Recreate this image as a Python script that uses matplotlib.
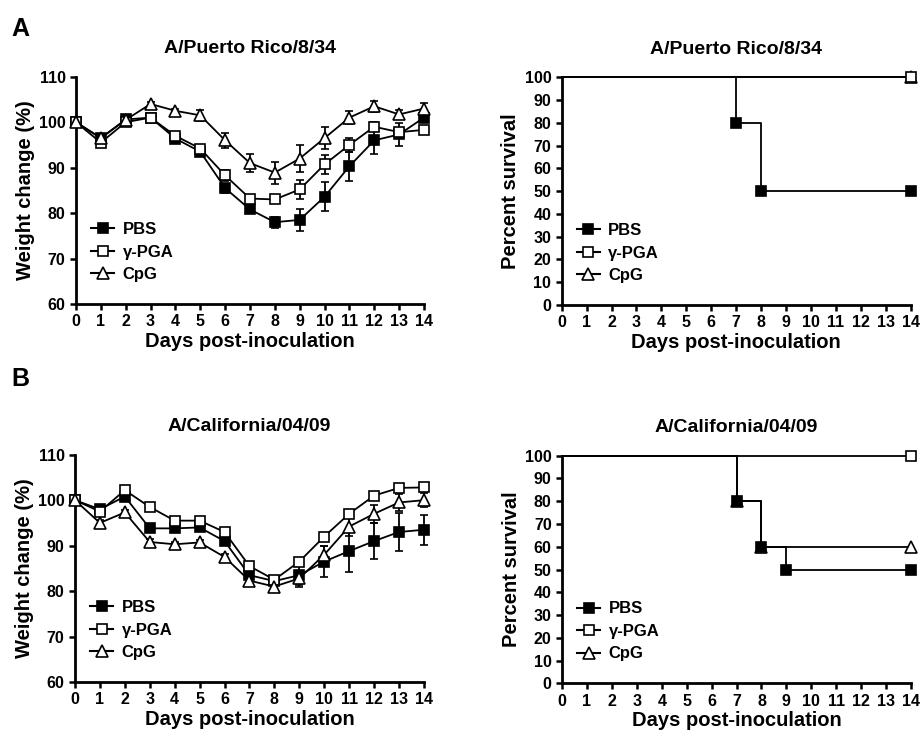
import matplotlib
matplotlib.use("Agg")
import matplotlib.pyplot as plt
from matplotlib.lines import Line2D

plt.rcParams['font.family'] = ['Liberation Sans', 'DejaVu Sans']
plt.rcParams['font.weight'] = 'bold'

days = list(range(15))
groups = ["PBS", "\u03b3-PGA", "CpG"]

# A/Puerto Rico/8/34 weight change (%)
pr_pbs = [100, 96.5, 100.6, 101.0, 96.4, 93.5, 85.5, 80.8, 78.0, 78.5, 83.6, 90.3, 96.0, 97.3, 101.0]
pr_pbs_err = [0, 0.5, 0.5, 0.5, 0.6, 1.0, 1.0, 0.6, 1.2, 2.4, 3.2, 3.2, 3.0, 2.5, 1.0]
pr_pga = [100, 95.5, 100.0, 101.0, 97.0, 94.2, 88.3, 83.2, 83.0, 85.2, 90.7, 95.0, 99.0, 97.8, 98.3]
pr_pga_err = [0, 0.5, 0.5, 0.5, 0.5, 0.8, 1.2, 0.6, 0.6, 2.0, 2.0, 1.5, 1.0, 1.0, 0.6]
pr_cpg = [100, 96.5, 100.5, 104.0, 102.5, 101.5, 96.0, 91.0, 88.9, 92.0, 96.5, 101.0, 103.5, 101.7, 103.0]
pr_cpg_err = [0, 0.4, 0.4, 0.4, 0.5, 1.2, 1.7, 2.0, 2.4, 3.0, 2.5, 1.5, 1.2, 1.0, 1.2]

# A/California/04/09 weight change (%)
ca_pbs = [100, 98.0, 100.8, 93.8, 93.8, 94.0, 91.0, 83.5, 82.2, 83.5, 86.5, 88.8, 91.0, 93.0, 93.5]
ca_pbs_err = [0, 0.5, 0.6, 0.6, 0.6, 0.6, 0.8, 0.8, 0.8, 2.5, 3.5, 4.5, 4.0, 4.2, 3.3]
ca_pga = [100, 97.5, 102.2, 98.5, 95.5, 95.5, 93.0, 85.5, 82.5, 86.5, 92.0, 97.0, 101.0, 102.7, 102.8]
ca_pga_err = [0, 0.5, 0.5, 0.5, 0.5, 0.5, 0.5, 0.5, 0.5, 0.6, 0.6, 0.6, 0.6, 0.6, 0.6]
ca_cpg = [100, 95.0, 97.3, 90.8, 90.3, 90.7, 87.5, 82.3, 81.0, 82.8, 88.0, 94.2, 97.0, 99.5, 100.0]
ca_cpg_err = [0, 0.6, 0.6, 0.6, 0.5, 0.5, 0.6, 0.6, 0.6, 1.5, 2.0, 2.0, 2.0, 1.8, 1.5]

# survival curves (time, percent)
pr_surv_t = {"PBS": [0, 7, 8, 14], "\u03b3-PGA": [0, 14], "CpG": [0, 14]}
pr_surv = {"PBS": [100, 80, 50, 50], "\u03b3-PGA": [100, 100], "CpG": [100, 100]}
ca_surv_t = {"PBS": [0, 7, 8, 9, 14], "\u03b3-PGA": [0, 14], "CpG": [0, 7, 8, 14]}
ca_surv = {"PBS": [100, 80, 60, 50, 50], "\u03b3-PGA": [100, 100], "CpG": [100, 80, 60, 60]}

styles = {
    "PBS": dict(marker='s', mfc='black', mec='black'),
    "\u03b3-PGA": dict(marker='s', mfc='white', mec='black'),
    "CpG": dict(marker='^', mfc='white', mec='black'),
}
msize = {"PBS": 7.5, "\u03b3-PGA": 7.5, "CpG": 8}

fig = plt.figure(figsize=(9.22, 7.34), dpi=100)
ax_pos = [
    [0.0824, 0.5858, 0.3774, 0.3097],
    [0.6092, 0.5845, 0.3785, 0.3102],
    [0.0813, 0.0708, 0.3785, 0.3097],
    [0.6096, 0.0691, 0.3785, 0.3100],
]
axes = [fig.add_axes(p) for p in ax_pos]


def style_axis(ax):
    for s in ['top', 'right']:
        ax.spines[s].set_visible(False)
    for s in ['left', 'bottom']:
        ax.spines[s].set_linewidth(2)
    ax.tick_params(width=1.8, length=4, labelsize=11.5, direction='out', pad=3.5)
    ax.set_xlim(0, 14)
    ax.set_xticks(days)
    ax.set_xlabel("Days post-inoculation", fontsize=14.5, fontweight='bold', labelpad=2)
    for lab in ax.get_xticklabels() + ax.get_yticklabels():
        lab.set_fontweight('bold')


def legend(ax, anchor):
    handles = [Line2D([0], [0], color='black', lw=1.5, markersize=msize[g], mew=1.2, **styles[g])
               for g in groups]
    ax.legend(handles, groups, loc='lower left', bbox_to_anchor=anchor, frameon=False,
              handlelength=1.4, handletextpad=0.5, labelspacing=0.45,
              prop=dict(weight='bold', size=12))


def weight_panel(ax, title, series):
    for g, (vals, err) in zip(groups, series):
        ax.errorbar(days, vals, yerr=err, color='black', lw=1.3, elinewidth=1.3, capsize=3,
                    capthick=1.3, markersize=msize[g], mew=1.2, clip_on=False, zorder=3,
                    **styles[g])
    ax.set_ylim(60, 110)
    ax.set_yticks([60, 70, 80, 90, 100, 110])
    ax.set_ylabel("Weight change (%)", fontsize=14.5, fontweight='bold', labelpad=3)
    ax.set_title(title, fontsize=14, fontweight='bold', pad=17)
    style_axis(ax)
    legend(ax, (0.0, 0.03))


def surv_panel(ax, title, times, surv):
    for g in groups[::-1]:
        t = times[g]
        s = surv[g]
        ax.step(t, s, where='post', color='black', lw=1.3, clip_on=False, zorder=3)
        ax.plot(t[1:], s[1:], ls='none', markersize=msize[g], mew=1.2, clip_on=False,
                zorder=4, **styles[g])
    ax.set_ylim(0, 100)
    ax.set_yticks(range(0, 101, 10))
    ax.set_ylabel("Percent survival", fontsize=14.5, fontweight='bold', labelpad=3)
    ax.set_title(title, fontsize=14, fontweight='bold', pad=17)
    style_axis(ax)
    legend(ax, (0.0, 0.03))


weight_panel(axes[0], "A/Puerto Rico/8/34",
             [(pr_pbs, pr_pbs_err), (pr_pga, pr_pga_err), (pr_cpg, pr_cpg_err)])
surv_panel(axes[1], "A/Puerto Rico/8/34", pr_surv_t, pr_surv)
weight_panel(axes[2], "A/California/04/09",
             [(ca_pbs, ca_pbs_err), (ca_pga, ca_pga_err), (ca_cpg, ca_cpg_err)])
surv_panel(axes[3], "A/California/04/09", ca_surv_t, ca_surv)

fig.text(0.012, 0.977, "A", fontsize=18, fontweight='bold', va='top')
fig.text(0.012, 0.500, "B", fontsize=18, fontweight='bold', va='top')

fig.savefig("out.png", dpi=100)
